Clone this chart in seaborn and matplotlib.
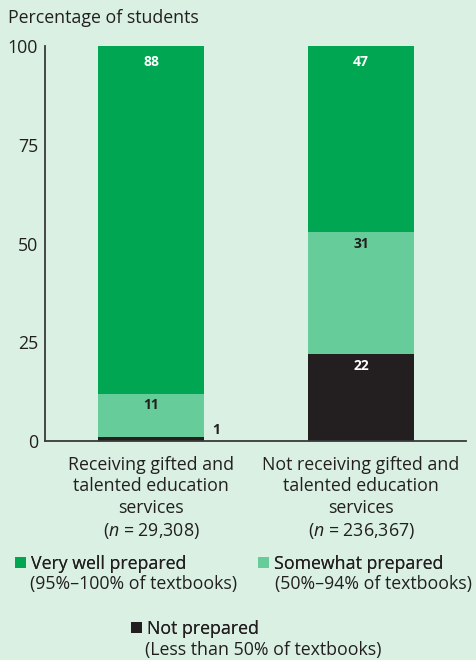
import seaborn as sns
import matplotlib.pyplot as plt
import pandas as pd
from matplotlib.patches import Patch

groups = [
    "Receiving gifted and\ntalented education\nservices\n($\\it{n}$ = 29,308)",
    "Not receiving gifted and\ntalented education\nservices\n($\\it{n}$ = 236,367)",
]
very_well = [88, 47]
somewhat = [11, 31]
not_prepared = [1, 22]

legend_names = ["Very well prepared", "Somewhat prepared", "Not prepared"]
legend_notes = ["(95%\u2013100% of textbooks)", "(50%\u201394% of textbooks)",
                "(Less than 50% of textbooks)"]

bg = "#d9f0e3"
c_very = "#00a651"
c_some = "#66cc99"
c_not = "#231f20"
txt = "#231f20"
fs = 12.8

sns.set_style("white")
plt.rcParams["font.family"] = ["Open Sans", "DejaVu Sans"]
plt.rcParams["mathtext.fontset"] = "custom"
plt.rcParams["mathtext.it"] = "Open Sans:italic"
plt.rcParams["mathtext.rm"] = "Open Sans"
plt.rcParams["text.color"] = txt

df = pd.DataFrame({
    "group": groups,
    "very": very_well,
    "some": somewhat,
    "not": not_prepared,
})
df["top_some"] = df["some"] + df["not"]
df["total"] = df["very"] + df["top_some"]

fig = plt.figure(figsize=(4.77, 6.6), dpi=100, facecolor=bg)
ax = fig.add_axes([0.0943, 0.3318, 0.8827, 0.5982])
ax.set_facecolor(bg)

# stacked bars, drawn as overlapping cumulative totals
bar_kw = dict(width=0.505, saturation=1, linewidth=0, edgecolor="none", ax=ax)
sns.barplot(data=df, x="group", y="total", color=c_very, **bar_kw)
sns.barplot(data=df, x="group", y="top_some", color=c_some, **bar_kw)
sns.barplot(data=df, x="group", y="not", color=c_not, **bar_kw)

lab_kw = dict(ha="center", va="center", fontsize=10, fontweight="bold")
for i, row in df.iterrows():
    ax.text(i, row["total"] - 4.1, str(row["very"]), color="white", **lab_kw)
    ax.text(i, row["top_some"] - 3.0, str(row["some"]), color=txt, **lab_kw)
    if row["not"] >= 5:
        ax.text(i, row["not"] - 3.0, str(row["not"]), color="white", **lab_kw)
    else:
        ax.text(i + 0.31, row["not"] + 1.9, str(row["not"]), color=txt, **lab_kw)

ax.set_xlim(-0.505, 1.5)
ax.set_ylim(0, 100)
ax.set_yticks([0, 25, 50, 75, 100])
ax.set_xlabel("")
ax.set_ylabel("")
ax.tick_params(axis="both", length=0, labelsize=fs, colors=txt)
ax.tick_params(axis="x", pad=10.5)
ax.tick_params(axis="y", pad=5)
for lbl in ax.get_xticklabels():
    lbl.set_linespacing(1.26)

sns.despine(ax=ax, top=True, right=True)
for s in ["left", "bottom"]:
    ax.spines[s].set_color("#3a3a3a")
    ax.spines[s].set_linewidth(1.3)

fig.text(0.017, 0.972, "Percentage of students", fontsize=fs, va="center",
         ha="left", color=txt)

# legend: square + first line, second line as note underneath
colors = [c_very, c_some, c_not]
pos = [(15, 30, 564), (258, 275, 564), (131, 145, 629)]
W, H = 477, 660
for c, name, note, (sx, tx, y) in zip(colors, legend_names, legend_notes, pos):
    leg = fig.legend([Patch(facecolor=c, edgecolor="none")], [name],
                     loc="center left", bbox_to_anchor=(sx / W, 1 - y / H),
                     frameon=False, fontsize=fs, handlelength=0.6,
                     handleheight=0.6, handletextpad=0.3, borderpad=0,
                     borderaxespad=0)
    fig.add_artist(leg)
    fig.text(tx / W, 1 - (y + 20.5) / H, note, fontsize=fs, va="center",
             ha="left", color=txt)

fig.savefig("out.png", dpi=100, facecolor=bg)
